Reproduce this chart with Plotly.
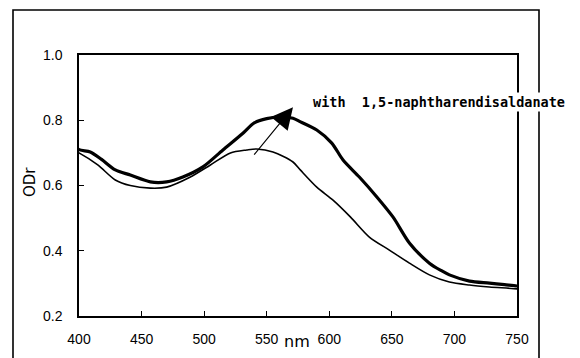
import plotly.graph_objects as go

# Thick curve: with 1,5-naphtharendisaldanate
wl_with = [394, 400, 409, 418, 429, 441, 457, 470, 483, 499, 515, 531, 540, 550,
           560, 571, 577, 590, 602, 611, 624, 638, 651, 664, 680, 690, 696, 712,
           728, 740, 750, 755]
od_with = [0.73, 0.71, 0.703, 0.68, 0.648, 0.632, 0.611, 0.611, 0.626, 0.657, 0.709,
           0.76, 0.792, 0.805, 0.81, 0.806, 0.795, 0.77, 0.73, 0.678, 0.626, 0.565,
           0.503, 0.424, 0.362, 0.338, 0.326, 0.307, 0.301, 0.296, 0.292, 0.289]

# Thin curve: without
wl_wo = [394, 400, 415, 429, 441, 457, 470, 489, 505, 521, 534, 542, 555, 571,
         577, 590, 603, 617, 632, 648, 664, 680, 696, 712, 728, 750, 755]
od_wo = [0.71, 0.70, 0.663, 0.617, 0.60, 0.592, 0.595, 0.626, 0.663, 0.70, 0.709,
         0.712, 0.703, 0.672, 0.647, 0.595, 0.555, 0.503, 0.442, 0.402, 0.362,
         0.326, 0.304, 0.295, 0.289, 0.283, 0.28]

x_ticks = [400, 450, 500, 550, 600, 650, 700, 750]
y_ticks = [0.2, 0.4, 0.6, 0.8, 1.0]
label_text = "with\u00a0\u00a01,5-naphtharendisaldanate"

fig = go.Figure()
fig.add_trace(go.Scatter(x=wl_wo, y=od_wo, mode="lines",
                         line=dict(color="black", width=1.6, shape="spline", smoothing=0.8),
                         cliponaxis=False, showlegend=False))
fig.add_trace(go.Scatter(x=wl_with, y=od_with, mode="lines",
                         line=dict(color="black", width=3.2, shape="spline", smoothing=0.8),
                         cliponaxis=False, showlegend=False))

axis_font = dict(family="Liberation Sans, Arial", size=14, color="black")

fig.update_layout(
    width=580, height=358,
    margin=dict(l=79, r=63, t=55, b=42),
    paper_bgcolor="white", plot_bgcolor="white",
    xaxis=dict(range=[400, 750], tickvals=x_ticks, ticktext=[str(v) for v in x_ticks],
               ticks="inside", ticklen=5, tickwidth=1, tickcolor="black",
               showline=True, linecolor="black", linewidth=1.5, mirror=True,
               showgrid=False, zeroline=False, tickfont=axis_font,
               ticklabelstandoff=9),
    yaxis=dict(range=[0.2, 1.0], tickvals=y_ticks, ticktext=["%.1f" % v for v in y_ticks],
               ticks="inside", ticklen=5, tickwidth=1, tickcolor="black",
               showline=True, linecolor="black", linewidth=1.5, mirror=True,
               showgrid=False, zeroline=False, tickfont=axis_font,
               ticklabelstandoff=12),
    shapes=[dict(type="rect", xref="paper", yref="paper",
                 x0=(13 - 79) / 438, x1=(539 - 79) / 438,
                 y0=-0.6, y1=1 + (55 - 10) / 261,
                 line=dict(color="black", width=1.6), layer="below")],
    annotations=[
        dict(x=0.822, y=0.82, xref="paper", yref="paper", text=label_text,
             showarrow=False, bgcolor="white", xanchor="center", yanchor="middle",
             font=dict(family="DejaVu Sans Mono", size=13.5, color="black", weight="bold")),
        dict(x=571, y=0.84, ax=539, ay=0.69, xref="x", yref="y", axref="x", ayref="y",
             text="", showarrow=True, arrowhead=2, arrowsize=3.6, arrowwidth=1.2,
             arrowcolor="black"),
        dict(x=0.498, y=-0.096, xref="paper", yref="paper", text="nm", showarrow=False,
             xanchor="center", yanchor="middle",
             font=dict(family="DejaVu Sans", size=16, color="black")),
        dict(x=-0.112, y=0.513, xref="paper", yref="paper", text="ODr", showarrow=False,
             textangle=-90, xanchor="center", yanchor="middle",
             font=dict(family="DejaVu Sans", size=15, color="black")),
    ],
)

fig.write_html("out.html")
